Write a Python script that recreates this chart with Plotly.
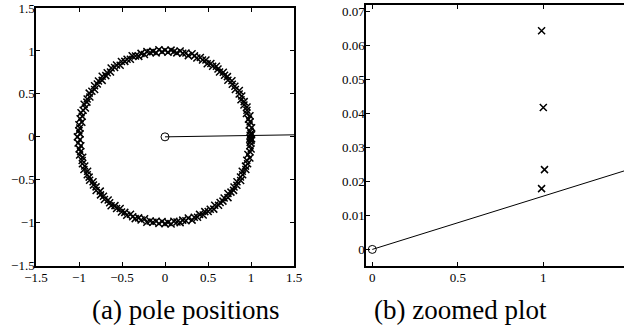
import numpy as np
import plotly.graph_objects as go

# ---- data ----
# poles close to z = 1 (visible in the zoomed panel) and their conjugates
near_re = [0.990, 1.007, 1.000, 0.990, 0.990, 1.007, 1.000, 0.990]
near_im = [0.0179, 0.0235, 0.0418, 0.0644, -0.0179, -0.0235, -0.0418, -0.0644]

# remaining poles around the unit circle (angle in degrees, radius)
ring_angle_deg = [
    6, 8, 10, 12, 14, 16, 18, 20, 22, 24, 26, 28, 30, 32, 34,
    36, 38, 40, 42, 44, 46, 48, 50, 52, 54, 56, 58, 60, 62, 64,
    66, 68, 70, 72, 74, 76, 78, 80, 82, 84, 86, 88, 90, 92, 94,
    96, 98, 100, 102, 104, 106, 108, 110, 112, 114, 116, 118, 120, 122, 124,
    126, 128, 130, 132, 134, 136, 138, 140, 142, 144, 146, 148, 150, 152, 154,
    156, 158, 160, 162, 164, 166, 168, 170, 172, 174, 176, 178, 180, 182, 184,
    186, 188, 190, 192, 194, 196, 198, 200, 202, 204, 206, 208, 210, 212, 214,
    216, 218, 220, 222, 224, 226, 228, 230, 232, 234, 236, 238, 240, 242, 244,
    246, 248, 250, 252, 254, 256, 258, 260, 262, 264, 266, 268, 270, 272, 274,
    276, 278, 280, 282, 284, 286, 288, 290, 292, 294, 296, 298, 300, 302, 304,
    306, 308, 310, 312, 314, 316, 318, 320, 322, 324, 326, 328, 330, 332, 334,
    336, 338, 340, 342, 344, 346, 348, 350, 352, 354,
]
ring_radius = [
    1.012, 0.988, 1.005, 0.992, 1.018, 0.985, 1.002, 1.015, 0.990, 1.008, 0.983, 1.011, 0.996, 1.019, 0.987,
    1.004, 0.993, 1.016, 0.984, 1.009, 0.997, 1.013, 0.986, 1.001, 1.017, 0.991, 1.006, 0.982, 1.014, 0.995,
    1.010, 0.989, 1.003, 1.018, 0.984, 1.007, 0.994, 1.015, 0.987, 1.000, 1.012, 0.986, 1.009, 0.992, 1.016,
    0.983, 1.005, 0.998, 1.014, 0.988, 1.011, 0.985, 1.002, 1.019, 0.990, 1.006, 0.995, 1.013, 0.984, 1.008,
    0.997, 1.017, 0.986, 1.004, 0.991, 1.015, 0.983, 1.010, 0.999, 1.012, 0.987, 1.003, 1.018, 0.989, 1.007,
    0.994, 1.014, 0.985, 1.001, 1.016, 0.992, 1.009, 0.982, 1.011, 0.996, 1.005, 0.988, 1.019, 0.990, 1.013,
    0.984, 1.008, 0.997, 1.015, 0.986, 1.002, 1.010, 0.993, 1.017, 0.985, 1.006, 0.999, 1.012, 0.987, 1.004,
    0.991, 1.016, 0.983, 1.009, 0.995, 1.014, 0.988, 1.001, 1.018, 0.990, 1.007, 0.984, 1.011, 0.996, 1.015,
    0.986, 1.003, 1.013, 0.992, 1.008, 0.982, 1.017, 0.994, 1.005, 0.989, 1.012, 0.985, 1.010, 0.998, 1.016,
    0.987, 1.002, 1.014, 0.991, 1.006, 0.983, 1.019, 0.995, 1.009, 0.988, 1.013, 0.986, 1.004, 0.993, 1.015,
    0.984, 1.011, 0.997, 1.007, 0.990, 1.018, 0.985, 1.001, 1.012, 0.992, 1.008, 0.987, 1.016, 0.994, 1.005,
    0.983, 1.014, 0.996, 1.010, 0.989, 1.017, 0.986, 1.003, 1.011, 0.991,
]

zero_re = [0.0]
zero_im = [0.0]

# straight line through the origin
line_x = [0.0, 2.0]
line_y = [0.0, 0.0314]

left_ticks = [-1.5, -1, -0.5, 0, 0.5, 1, 1.5]
right_xticks = [0, 0.5, 1]
right_yticks = [0, 0.01, 0.02, 0.03, 0.04, 0.05, 0.06, 0.07]

captions = ["(a) pole positions", "(b) zoomed plot"]

# ---- build pole coordinates ----
ang = np.deg2rad(ring_angle_deg)
pole_re = list(np.array(ring_radius) * np.cos(ang)) + near_re
pole_im = list(np.array(ring_radius) * np.sin(ang)) + near_im

fig = go.Figure()
font_family = "Times New Roman, Liberation Serif, DejaVu Serif, serif"

for ax in ["", "2"]:
    xa, ya = "x" + ax, "y" + ax
    fig.add_trace(go.Scatter(x=line_x, y=line_y, mode="lines",
                             line=dict(color="black", width=1),
                             xaxis=xa, yaxis=ya, showlegend=False))
    fig.add_trace(go.Scatter(x=pole_re, y=pole_im, mode="markers",
                             marker=dict(symbol="x-thin", size=7, color="black",
                                         line=dict(color="black", width=1.5)),
                             xaxis=xa, yaxis=ya, showlegend=False))
    fig.add_trace(go.Scatter(x=zero_re, y=zero_im, mode="markers",
                             marker=dict(symbol="circle-open", size=8, color="black",
                                         line=dict(color="black", width=1)),
                             xaxis=xa, yaxis=ya, showlegend=False, cliponaxis=False))

W, H = 624, 330
common = dict(showgrid=False, zeroline=False, showline=True, linecolor="black",
              linewidth=1.5, ticks="inside", ticklen=4, tickcolor="black", tickwidth=1,
              automargin=False,
              tickfont=dict(family=font_family, size=13, color="black"))

fig.update_layout(
    template="none",
    font=dict(family=font_family, color="black"),
    width=W, height=H,
    margin=dict(l=0, r=0, t=0, b=0, pad=0),
    paper_bgcolor="white", plot_bgcolor="white",
    xaxis=dict(domain=[36 / W, 294 / W], range=[-1.5, 1.5], tickvals=left_ticks,
               anchor="y", mirror="ticks", ticklabelstandoff=-1, **common),
    yaxis=dict(domain=[(H - 265.7) / H, (H - 8) / H], range=[-1.5, 1.5], tickvals=left_ticks,
               anchor="x", mirror="ticks", ticklabelstandoff=-3, **common),
    xaxis2=dict(domain=[366 / W, 1.0], range=[-0.0368, 1.472], tickvals=right_xticks,
                anchor="y2", mirror="ticks", ticklabelstandoff=-1, **common),
    yaxis2=dict(domain=[(H - 265.7) / H, (H - 5) / H], range=[-0.0048, 0.072],
                tickvals=right_yticks, anchor="x2", mirror=False, ticklabelstandoff=-3, **common),
)

for i, cx in enumerate([185.5, 460]):
    fig.add_annotation(text=captions[i], x=cx / W, y=(H - 310) / H, xref="paper", yref="paper",
                       showarrow=False, xanchor="center", yanchor="middle",
                       font=dict(family=font_family, size=27, color="black"))

fig.write_html("out.html", config={"displayModeBar": False},
               post_script="document.body.style.margin='0';document.body.style.padding='0';")
